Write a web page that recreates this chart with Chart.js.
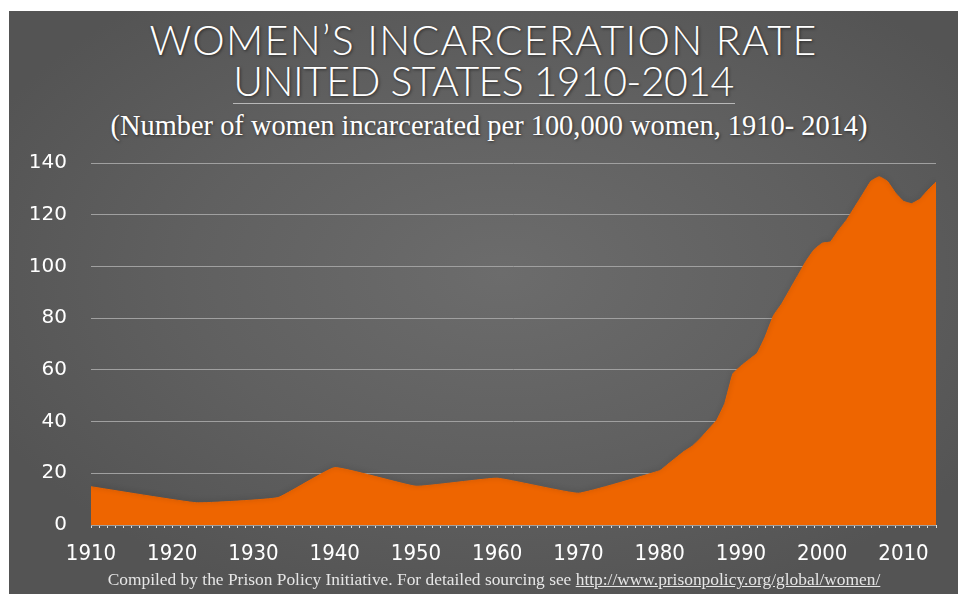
<!DOCTYPE html>
<html>
<head>
<meta charset="utf-8">
<script src="https://cdn.jsdelivr.net/npm/chart.js@4.4.1/dist/chart.umd.min.js"></script>
<style>
  body { margin: 0; background: #fff; width: 958px; height: 594px; overflow: hidden; position: relative; }
  #fondo {
    position: absolute; left: 9px; top: 11px; right: 0; bottom: 0;
    background: radial-gradient(ellipse 60% 60% at 52% 45%, #6c6c6c 0%, #606060 55%, #545454 100%);
  }
  .titulo {
    position: absolute; left: 9px; right: 0; text-align: center; color: #fff;
    font-family: Lato, "Open Sans", sans-serif; font-size: 41px; font-weight: 300;
    letter-spacing: 1.3px; line-height: 50px;
    text-shadow: 1px 1px 3px rgba(0,0,0,0.55); white-space: nowrap;
  }
  #linea { position: absolute; left: 233px; width: 502px; top: 103px; height: 1px; background: #b8b8b8; }
  #subtitulo {
    position: absolute; left: 20px; right: 0; top: 109px; text-align: center; color: #fff;
    font-family: "Liberation Serif", "DejaVu Serif", serif; font-size: 28.4px; line-height: 34px;
    text-shadow: 1px 1px 3px rgba(0,0,0,0.5); white-space: nowrap;
  }
  #pie {
    position: absolute; left: 30px; right: 0; top: 569px; text-align: center; color: #e6e6e6;
    font-family: "Liberation Serif", "DejaVu Serif", serif; font-size: 17.4px; line-height: 20px; white-space: nowrap;
  }
  #pie span { text-decoration: underline; }
  canvas { position: absolute; left: 0; top: 0; }
</style>
</head>
<body>
<div id="fondo"></div>
<div class="titulo" style="top: 15px;">WOMEN’S INCARCERATION RATE</div>
<div class="titulo" style="top: 56px; letter-spacing: -0.6px;">UNITED STATES 1910-2014</div>
<div id="linea"></div>
<div id="subtitulo">(Number of women incarcerated per 100,000 women, 1910- 2014)</div>
<canvas id="grafico" width="958" height="594"></canvas>
<div id="pie">Compiled by the Prison Policy Initiative. For detailed sourcing see <span>http://www.prisonpolicy.org/global/women/</span></div>
<script>
const anios = [1910, 1923, 1933, 1940, 1950, 1960, 1970,
    1980, 1981, 1982, 1983, 1984, 1985, 1986, 1987, 1988, 1989,
    1990, 1991, 1992, 1993, 1994, 1995, 1996, 1997, 1998, 1999,
    2000, 2001, 2002, 2003, 2004, 2005, 2006, 2007, 2008, 2009,
    2010, 2011, 2012, 2013, 2014];
const tasas = [14.8, 8.6, 10.6, 22.2, 15.0, 18.1, 12.3,
    21.0, 23.5, 26.0, 28.5, 30.5, 33.5, 37.0, 40.5, 47.0, 58.5,
    61.5, 64.0, 66.5, 73.0, 81.0, 85.5, 91.0, 96.5, 102.0, 106.5,
    109.0, 109.5, 114.0, 118.0, 123.0, 128.0, 133.0, 134.7, 133.0, 128.5,
    125.2, 124.3, 126.0, 129.5, 132.6];
const marcasY = [0, 20, 40, 60, 80, 100, 120, 140];

const puntos = anios.map((a, i) => ({ x: a, y: tasas[i] }));

const sombra = {
    id: 'sombra',
    beforeDatasetDraw(chart) {
        const ctx = chart.ctx;
        ctx.save();
        ctx.shadowColor = 'rgba(0,0,0,0.35)';
        ctx.shadowBlur = 5;
        ctx.shadowOffsetY = -1;
    },
    afterDatasetDraw(chart) {
        chart.ctx.restore();
    }
};

const ctx = document.getElementById('grafico').getContext('2d');
new Chart(ctx, {
    type: 'line',
    data: {
        datasets: [{
            data: puntos,
            fill: 'origin',
            backgroundColor: '#ee6500',
            borderColor: '#e86200',
            borderWidth: 1,
            pointRadius: 0,
            tension: 0.1
        }]
    },
    options: {
        responsive: false,
        animation: false,
        layout: { padding: { left: 0, right: 22, top: 163, bottom: 0 } },
        plugins: { legend: { display: false }, tooltip: { enabled: false } },
        scales: {
            x: {
                type: 'linear',
                min: 1910,
                max: 2014,
                afterFit: s => { s.height = 69; },
                border: { display: false },
                grid: { drawOnChartArea: false, drawTicks: true, tickLength: 3, color: '#dddddd' },
                ticks: {
                    stepSize: 1,
                    autoSkip: false,
                    includeBounds: false,
                    maxRotation: 0,
                    padding: 13,
                    color: '#ffffff',
                    font: { family: '"DejaVu Sans Condensed", "DejaVu Sans"', size: 22 },
                    callback: v => (v % 10 === 0 ? String(v) : '')
                }
            },
            y: {
                min: 0,
                max: 140,
                afterFit: s => { s.width = 91; },
                afterBuildTicks: s => { s.ticks = marcasY.map(v => ({ value: v })); },
                border: { display: false },
                grid: { drawTicks: false, color: '#a0a0a0', lineWidth: 1 },
                ticks: {
                    padding: 24,
                    color: '#ffffff',
                    font: { family: '"DejaVu Sans"', size: 20 }
                }
            }
        }
    },
    plugins: [sombra]
});
</script>
</body>
</html>
